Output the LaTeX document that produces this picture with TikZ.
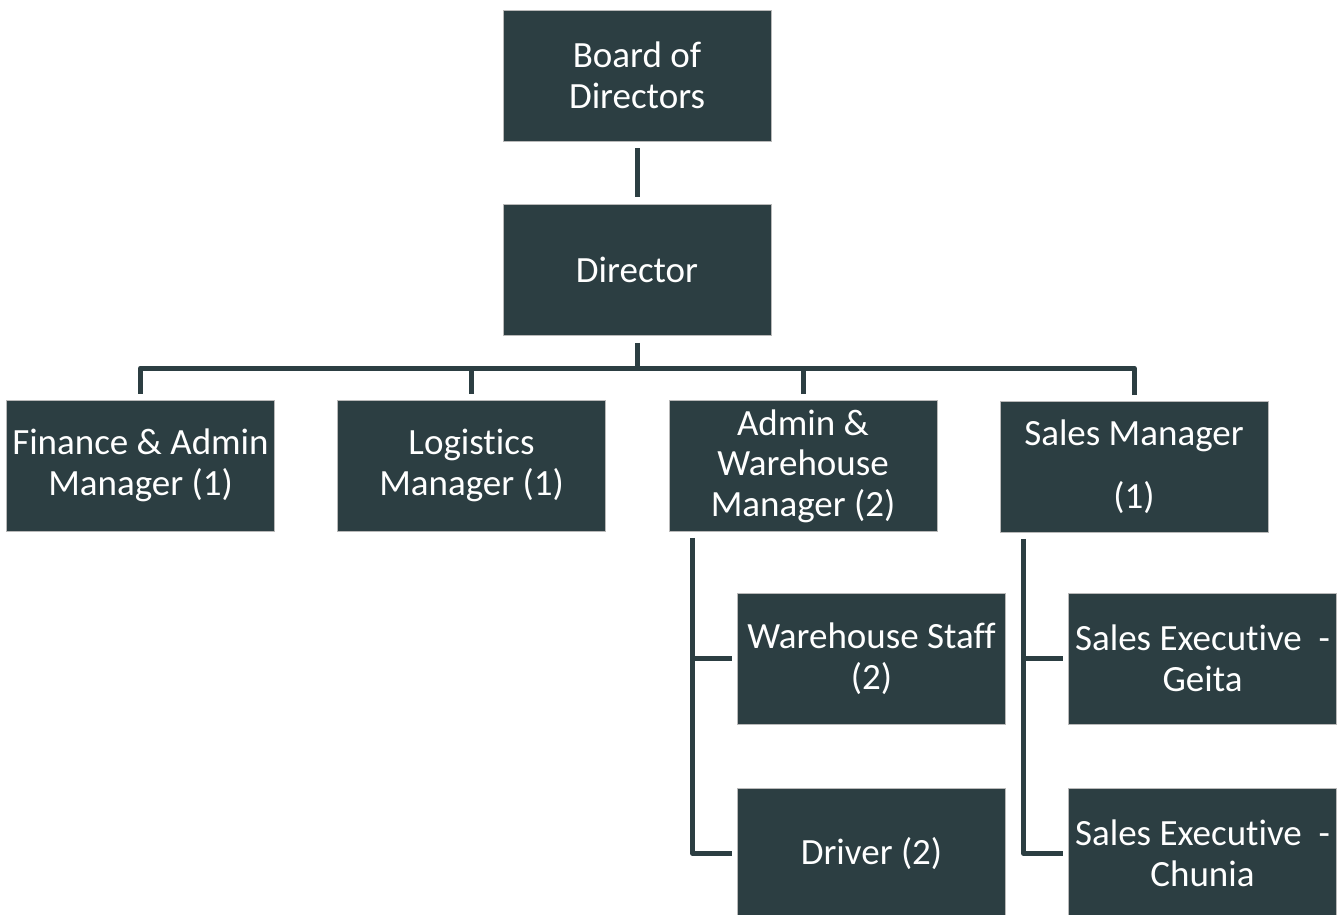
\documentclass[tikz,border=0pt]{standalone}
\usepackage{fontspec}
\setmainfont{Carlito}[Ligatures=NoCommon]
\usepackage{tikz}

\definecolor{slate}{HTML}{2C3E42}

\begin{document}
\begin{tikzpicture}[x=1pt, y=-1pt, draw=slate]
      \tikzstyle{post}=[rectangle, fill=slate, draw=gray!55, line width=0.8pt, text=white, minimum width=268pt, minimum height=131pt, inner sep=2pt, align=center, font=\fontsize{37}{40.6}\selectfont]
      \tikzstyle{link}=[line width=5pt, draw=slate, line join=round]

      \useasboundingbox (0,0) rectangle (1344,914);

      \node[post] (board) at (637, 75.5) {Board of\\Directors};
      \node[post] (director) at (637, 270) {Director};
      \node[post] (finance) at (140.5, 465.5) {Finance \& Admin\\Manager (1)};
      \node[post] (logistics) at (471.5, 465.5) {Logistics\\Manager (1)};
      \node[post] (admin) at (803, 466) {Admin \&\\Warehouse\\Manager (2)};
      \node[post] (sales) at (1134, 467) {Sales Manager\\[22pt](1)};
      \node[post] (whstaff) at (871.5, 658.5) {Warehouse Staff\\(2)};
      \node[post] (driver) at (871.5, 853.5) {Driver (2)};
      \node[post] (geita) at (1202.5, 658.5) {Sales Executive\ \ -\\Geita};
      \node[post] (chunia) at (1202.5, 853.5) {Sales Executive\ \ -\\Chunia};

      \coordinate (bus) at (637, 368);
      \coordinate (aspine) at ([xshift=24pt]admin.south west);
      \coordinate (sspine) at ([xshift=24pt]sales.south west);

      \draw[link, shorten <=7pt, shorten >=7pt] (board) -- (director);
      \draw[link, shorten <=7pt] (director.south) -- (bus);
      \draw[link, shorten <=6pt] (finance.north) |- (bus);
      \draw[link, shorten <=6pt] (logistics.north) |- (bus);
      \draw[link, shorten <=6pt] (admin.north) |- (bus);
      \draw[link, shorten <=6pt] (sales.north) |- (bus);

      \draw[link, shorten <=6pt, shorten >=5pt] (aspine) |- (driver.west);
      \draw[link, shorten >=5pt] (aspine |- whstaff.west) -- (whstaff.west);
      \draw[link, shorten <=6pt, shorten >=5pt] (sspine) |- (chunia.west);
      \draw[link, shorten >=5pt] (sspine |- geita.west) -- (geita.west);
  \end{tikzpicture}
\end{document}
